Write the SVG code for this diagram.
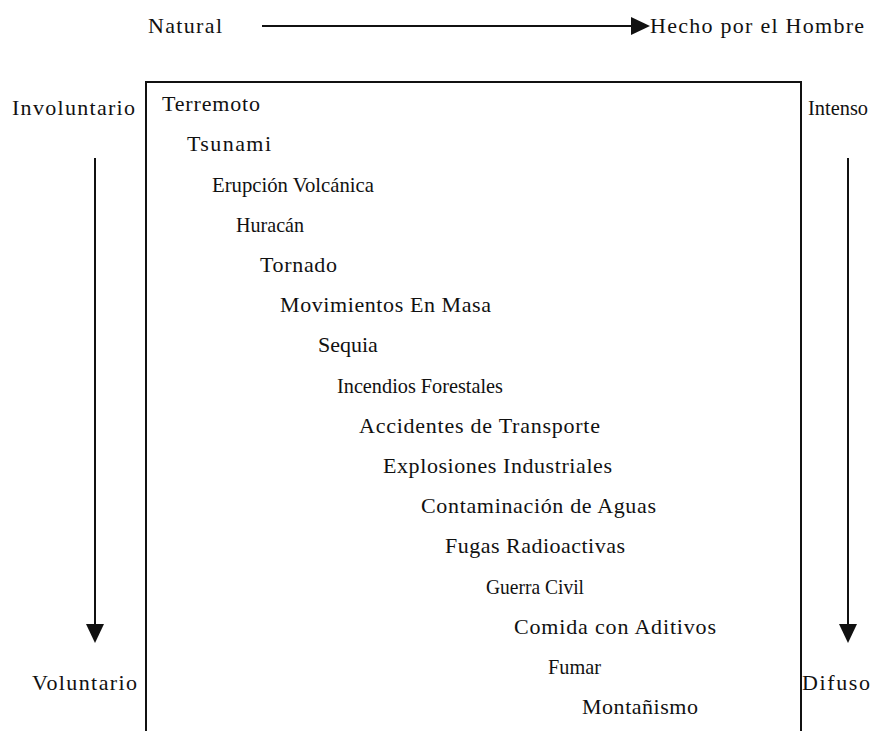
<svg xmlns="http://www.w3.org/2000/svg" width="885" height="731" viewBox="0 0 885 731">
  <style>
    text { font-family: "Liberation Serif", "Times New Roman", serif; font-size: 22px; fill: #111; }
    .ln { stroke: #111; stroke-width: 2; fill: none; }
  </style>
  <rect width="885" height="731" fill="#fff"/>

  <!-- axis labels -->
  <g id="axis-labels">
    <text x="148" y="33" textLength="74" lengthAdjust="spacing">Natural</text>
    <text x="650" y="33" textLength="214" lengthAdjust="spacing">Hecho por el Hombre</text>
    <text x="12" y="115" textLength="123" lengthAdjust="spacing">Involuntario</text>
    <text x="32" y="690" textLength="105" lengthAdjust="spacing">Voluntario</text>
    <text x="808" y="115" textLength="60" lengthAdjust="spacingAndGlyphs">Intenso</text>
    <text x="802" y="690" textLength="68" lengthAdjust="spacing">Difuso</text>
  </g>

  <!-- axis arrows -->
  <g id="connectors">
    <line class="ln" x1="262" y1="26" x2="632" y2="26"/>
    <path d="M631,17 L650,26 L631,35 Z" fill="#111"/>
    <line class="ln" x1="95" y1="158" x2="95" y2="626"/>
    <path d="M86,624 L104,624 L95,643 Z" fill="#111"/>
    <line class="ln" x1="848" y1="158" x2="848" y2="626"/>
    <path d="M839,624 L857,624 L848,643 Z" fill="#111"/>
  </g>

  <!-- open-bottomed frame around the hazard list -->
  <g id="frame">
    <path class="ln" d="M146,731 L146,82 L801,82 L801,731"/>
  </g>

  <!-- hazards, from natural/involuntary to man-made/voluntary -->
  <g id="hazards">
    <g id="n-terremoto"><text x="162" y="111" textLength="98" lengthAdjust="spacing">Terremoto</text></g>
    <g id="n-tsunami"><text x="187" y="151" textLength="84" lengthAdjust="spacing">Tsunami</text></g>
    <g id="n-erupcion"><text x="212" y="191.5" textLength="162" lengthAdjust="spacingAndGlyphs">Erupción Volcánica</text></g>
    <g id="n-huracan"><text x="236" y="231.6" textLength="68" lengthAdjust="spacingAndGlyphs">Huracán</text></g>
    <g id="n-tornado"><text x="260" y="272" textLength="77" lengthAdjust="spacing">Tornado</text></g>
    <g id="n-movimientos"><text x="280" y="312" textLength="211" lengthAdjust="spacing">Movimientos En Masa</text></g>
    <g id="n-sequia"><text x="318" y="352">Sequia</text></g>
    <g id="n-incendios"><text x="337" y="392.5" textLength="166" lengthAdjust="spacingAndGlyphs">Incendios Forestales</text></g>
    <g id="n-accidentes"><text x="359" y="432.6" textLength="241" lengthAdjust="spacing">Accidentes de Transporte</text></g>
    <g id="n-explosiones"><text x="383" y="473" textLength="229" lengthAdjust="spacing">Explosiones Industriales</text></g>
    <g id="n-contaminacion"><text x="421" y="513" textLength="235" lengthAdjust="spacing">Contaminación de Aguas</text></g>
    <g id="n-fugas"><text x="445" y="553" textLength="180" lengthAdjust="spacing">Fugas Radioactivas</text></g>
    <g id="n-guerra"><text x="486" y="593.5" textLength="98" lengthAdjust="spacingAndGlyphs">Guerra Civil</text></g>
    <g id="n-comida"><text x="514" y="633.6" textLength="202" lengthAdjust="spacing">Comida con Aditivos</text></g>
    <g id="n-fumar"><text x="548" y="674" textLength="53" lengthAdjust="spacingAndGlyphs">Fumar</text></g>
    <g id="n-montanismo"><text x="582" y="714" textLength="116" lengthAdjust="spacing">Montañismo</text></g>
  </g>
</svg>
